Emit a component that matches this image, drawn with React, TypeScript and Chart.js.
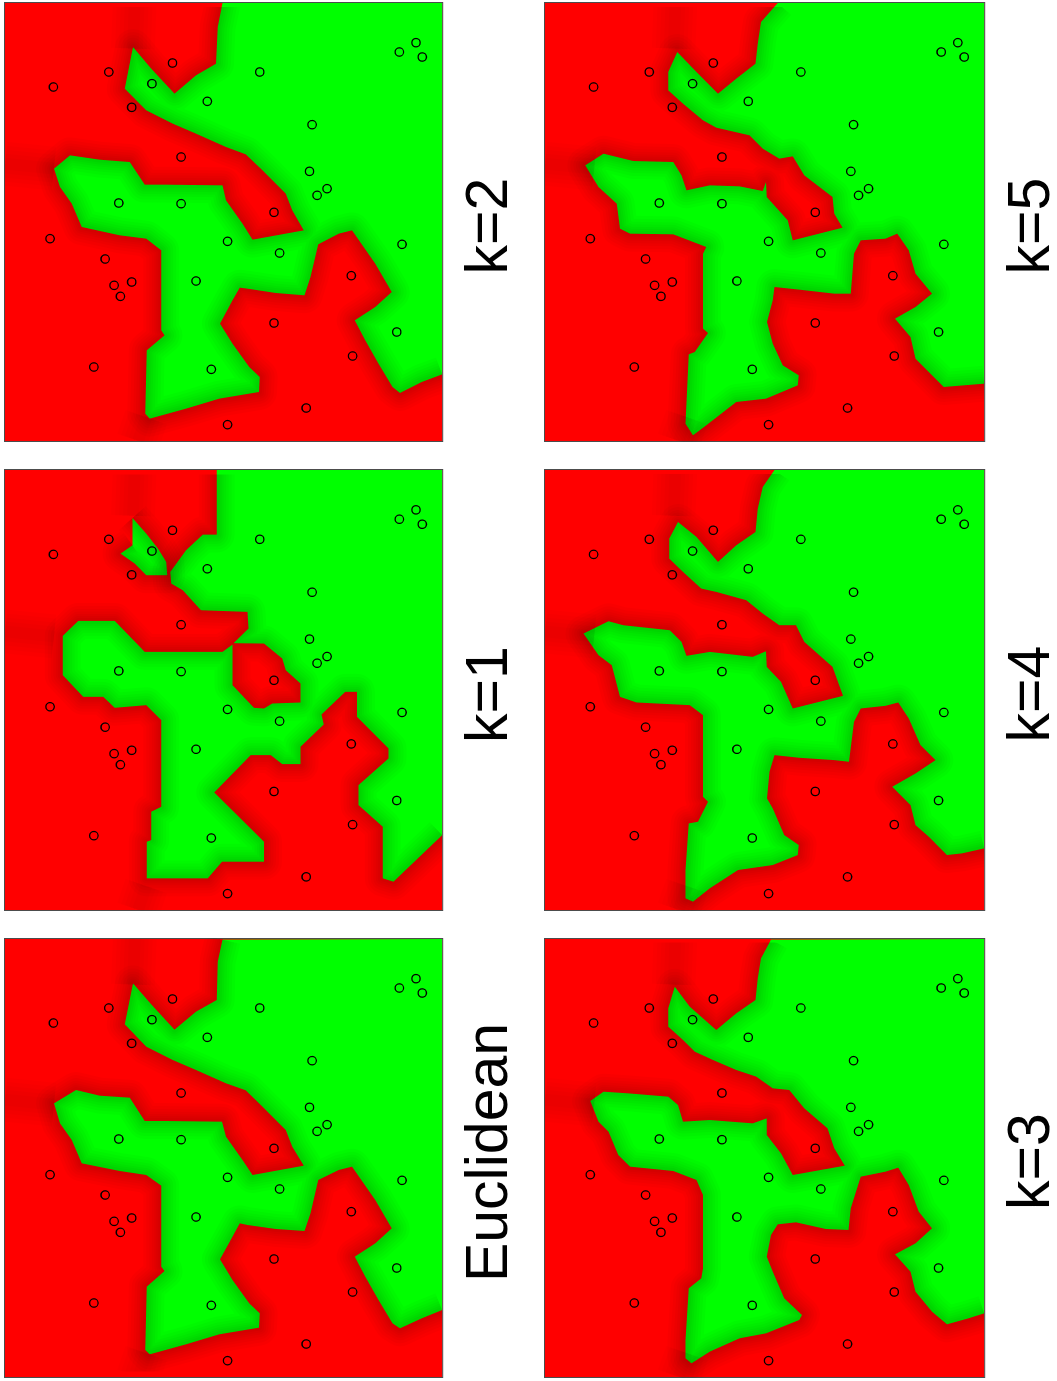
import React, { useEffect, useRef } from "react";
import { Chart, registerables } from "chart.js";
Chart.register(...registerables);

type P = number[][];

const trainingPoints: P = [[160,260],[327,215],[519,188],[457,250],[396,321],[624,303],[782,215],[1203,155],[1253,127],[1272,170],[940,373],[545,470],[357,608],[545,610],[150,715],[685,723],[825,636],[842,758],[932,513],[955,585],[985,565],[1211,732],[316,776],[343,855],[396,845],[362,888],[590,842],[1058,826],[825,968],[1195,995],[1062,1067],[282,1100],[636,1107],[922,1223],[685,1273]];

const shadeStreaks: P[] = [
  [[400,145],[405,8]],
  [[162,505],[14,490]],
  [[440,1250],[415,1322]],
];

const boundaryEuclidean: P = [[670,14],[655,80],[652,195],[590,230],[525,284],[455,208],[400,145],[375,268],[440,335],[520,375],[590,405],[680,445],[740,466],[790,515],[860,585],[880,635],[915,692],[760,720],[730,675],[680,605],[668,560],[500,558],[435,558],[390,488],[300,482],[228,465],[162,505],[180,565],[215,615],[245,685],[360,708],[440,720],[485,752],[485,995],[495,1008],[441,1055],[437,1245],[450,1258],[560,1228],[660,1198],[780,1178],[782,1135],[750,1105],[700,1035],[662,973],[700,905],[722,865],[745,870],[830,882],[917,888],[935,835],[958,735],[1020,705],[1060,695],[1130,795],[1180,880],[1130,925],[1068,965],[1100,1025],[1140,1095],[1182,1165],[1205,1180],[1270,1150],[1332,1125]];

const boundaryK1: P = [[652,14],[652,207],[610,208],[560,255],[512,320],[515,355],[550,375],[605,435],[745,440],[748,490],[703,534],[795,535],[850,580],[860,615],[905,655],[905,712],[820,715],[795,730],[765,728],[700,660],[700,538],[670,560],[435,560],[345,467],[235,467],[188,512],[188,630],[250,695],[310,695],[345,728],[440,720],[485,765],[485,1025],[455,1040],[455,1125],[441,1130],[441,1240],[625,1240],[668,1190],[795,1190],[795,1130],[645,982],[755,870],[815,870],[850,897],[905,897],[905,845],[975,778],[968,748],[1040,680],[1075,680],[1075,755],[1170,850],[1170,880],[1080,960],[1080,1020],[1153,1085],[1153,1240],[1185,1250],[1332,1110]];
const islandK1: P = [[398,158],[440,205],[475,250],[500,290],[503,330],[440,330],[405,295],[362,265],[398,240]];

const boundaryK2: P = [[670,8],[655,80],[650,190],[590,225],[525,280],[455,205],[400,140],[375,265],[440,330],[520,370],[590,400],[680,440],[740,462],[790,510],[860,580],[880,630],[915,690],[760,718],[730,670],[680,600],[670,555],[500,553],[435,553],[390,485],[300,478],[210,465],[162,505],[180,560],[215,610],[245,680],[360,705],[440,715],[485,750],[485,990],[495,1005],[441,1050],[437,1240],[450,1255],[560,1225],[660,1195],[780,1175],[782,1130],[750,1100],[700,1030],[662,970],[700,900],[722,862],[745,865],[830,878],[917,885],[935,830],[958,732],[1020,700],[1060,690],[1130,790],[1180,875],[1130,920],[1068,960],[1100,1020],[1140,1090],[1182,1160],[1205,1178],[1270,1145],[1332,1122]];

const boundaryK3: P = [[695,14],[665,70],[655,130],[648,195],[590,235],[530,285],[450,215],[405,155],[385,220],[385,275],[430,315],[465,350],[520,375],[590,405],[650,425],[700,460],[750,465],[795,520],[865,580],[885,640],[917,692],[760,720],[725,655],[682,600],[682,550],[640,565],[510,555],[430,560],[415,510],[385,485],[265,475],[190,470],[150,498],[175,560],[205,590],[235,660],[270,695],[400,708],[470,735],[490,780],[490,1000],[485,1030],[447,1060],[437,1215],[437,1270],[455,1285],[510,1250],[600,1210],[680,1195],[780,1155],[788,1140],[735,1090],[700,1010],[682,965],[695,900],[715,868],[770,862],[860,882],[928,885],[935,820],[965,725],[1040,710],[1078,698],[1110,750],[1140,830],[1180,880],[1130,925],[1068,958],[1115,1010],[1130,1070],[1180,1130],[1225,1168],[1290,1150],[1337,1135]];

const boundaryK4: P = [[705,14],[670,65],[655,130],[648,200],[590,240],[535,290],[470,215],[415,170],[388,220],[388,280],[430,320],[485,370],[530,380],[620,405],[670,445],[720,480],[770,480],[795,530],[880,605],[912,692],[760,730],[725,650],[682,605],[680,558],[640,575],[510,560],[440,572],[425,530],[390,495],[250,480],[205,468],[130,505],[175,570],[215,600],[240,695],[290,712],[450,720],[490,750],[490,995],[505,1010],[475,1070],[447,1075],[437,1215],[437,1300],[460,1310],[510,1270],[595,1215],[700,1200],[775,1170],[778,1140],[735,1110],[700,1030],[683,1000],[690,920],[705,870],[780,878],[885,885],[930,890],[945,770],[965,730],[1040,722],[1078,712],[1110,760],[1145,840],[1190,885],[1130,925],[1060,965],[1115,1020],[1130,1080],[1170,1115],[1225,1170],[1270,1165],[1337,1150]];

const boundaryK5: P = [[715,8],[665,65],[655,130],[648,190],[590,235],[535,280],[470,215],[412,155],[385,215],[385,270],[430,310],[490,360],[530,382],[630,405],[670,445],[720,475],[760,468],[795,525],[880,590],[885,640],[910,682],[760,720],[745,660],[682,590],[680,545],[670,572],[600,558],[510,555],[440,570],[425,525],[400,485],[280,482],[190,460],[135,495],[175,560],[230,610],[240,685],[270,700],[400,702],[500,740],[490,760],[490,985],[505,998],[465,1055],[447,1062],[437,1270],[460,1305],[500,1275],[590,1205],[680,1195],[775,1155],[778,1125],[730,1095],[700,1030],[683,965],[700,900],[705,860],[780,868],[885,880],[935,880],[945,760],[965,720],[1040,715],[1075,700],[1110,750],[1130,820],[1180,880],[1130,920],[1068,955],[1115,1010],[1130,1075],[1215,1160],[1337,1150]];

// frame limits in the units the outlines were read in
const panels = [
  { label: "k=2", labelShift: -4, boundary: boundaryK2, islands: [] as P[], xr: [14,1332], yr: [8,1322], left: 4, top: 2, pw: 439, ph: 438 },
  { label: "k=1", labelShift: -4.5, boundary: boundaryK1, islands: [islandK1], xr: [14,1332], yr: [14,1335], left: 4, top: 469, pw: 439, ph: 440 },
  { label: "Euclidean", labelShift: 5.5, boundary: boundaryEuclidean, islands: [] as P[], xr: [14,1332], yr: [12,1326], left: 4, top: 938, pw: 439, ph: 438 },
  { label: "k=5", labelShift: -4, boundary: boundaryK5, islands: [] as P[], xr: [14,1337], yr: [8,1322], left: 544, top: 2, pw: 441, ph: 438 },
  { label: "k=4", labelShift: -4, boundary: boundaryK4, islands: [] as P[], xr: [14,1337], yr: [14,1335], left: 544, top: 469, pw: 441, ph: 440 },
  { label: "k=3", labelShift: -3.5, boundary: boundaryK3, islands: [] as P[], xr: [14,1337], yr: [12,1326], left: 544, top: 938, pw: 441, ph: 438 },
];

const labelSpace = 81;
const refX = [14, 1332];
const refY = [8, 1322];
const glowWidths = [36, 30, 24, 19, 14, 10, 6];
const streakWidths = [44, 36, 28, 20, 12];

const panelPlugin = {
  id: "panelFrame",
  beforeDatasetsDraw(chart: any) {
    const { ctx, chartArea: a } = chart;
    ctx.save();
    ctx.fillStyle = "#ff0000";
    ctx.fillRect(a.left, a.top, a.right - a.left, a.bottom - a.top);
    ctx.restore();
  },
  afterDatasetsDraw(chart: any) {
    const { ctx, chartArea: a } = chart;
    ctx.save();
    ctx.strokeStyle = "rgba(0,0,0,0.7)";
    ctx.lineWidth = 1;
    ctx.strokeRect(a.left - 0.5, a.top - 0.5, a.right - a.left + 1, a.bottom - a.top + 1);
    ctx.restore();
  },
};

function Panel({ p }: { p: (typeof panels)[number] }) {
  const ref = useRef<HTMLCanvasElement>(null);
  const w = p.ph + 2;
  const h = p.pw + 2 + labelSpace;
  useEffect(() => {
    const xy = (a: P) => a.map(([x, y]) => ({ x: y, y: x }));
    const mapRef = (a: P) =>
      a.map(([x, y]) => [
        p.xr[0] + ((x - refX[0]) * (p.xr[1] - p.xr[0])) / (refX[1] - refX[0]),
        p.yr[0] + ((y - refY[0]) * (p.yr[1] - p.yr[0])) / (refY[1] - refY[0]),
      ]);
    const region = (a: P) => ({
      type: "scatter", data: xy(a), showLine: true, fill: "shape", backgroundColor: "#00ff00",
      borderWidth: 0, pointRadius: 0, clip: 0, tension: 0, order: 10,
    });
    const glow = (a: P, width: number, alpha: number, order: number) => ({
      type: "scatter", data: xy(a), showLine: true, fill: false,
      borderColor: `rgba(0,0,0,${alpha})`, borderWidth: width, pointRadius: 0, clip: 0, tension: 0,
      borderJoinStyle: "round", order,
    });
    const outlines = [p.boundary, ...p.islands];
    const closed: P = [...p.boundary, [p.xr[1], p.yr[0]]];
    const datasets: any[] = [
      region(closed),
      ...p.islands.map(region),
      ...outlines.flatMap((o) => glowWidths.map((g) => glow(o, g, 0.024, 9))),
      ...shadeStreaks.flatMap((s) => streakWidths.map((g) => glow(mapRef(s), g, 0.016, 6))),
      {
        type: "scatter", data: xy(mapRef(trainingPoints)), pointRadius: 4.2, pointBorderWidth: 1.3,
        pointBorderColor: "#000", pointBackgroundColor: "rgba(0,0,0,0)", order: 1,
      },
    ];
    // nudge the axis title along the panel without moving the data
    const labelNudge = {
      id: "labelNudge",
      beforeDraw(chart: any) {
        chart.scales.x.left += p.labelShift;
        chart.scales.x.right += p.labelShift;
      },
      afterDraw(chart: any) {
        chart.scales.x.left -= p.labelShift;
        chart.scales.x.right -= p.labelShift;
      },
    };
    const chart = new Chart(ref.current!, {
      type: "scatter",
      data: { datasets },
      plugins: [panelPlugin, labelNudge],
      options: {
        animation: false,
        responsive: false,
        events: [],
        layout: { autoPadding: false, padding: { left: 1, right: 1, top: 1, bottom: 0 } },
        plugins: { legend: { display: false }, tooltip: { enabled: false }, title: { display: false } },
        scales: {
          x: {
            type: "linear", reverse: true, min: p.yr[0], max: p.yr[1],
            grid: { display: false }, border: { display: false }, ticks: { display: false },
            title: {
              display: true, text: p.label, color: "#000",
              font: { family: "'Liberation Sans'", size: 59, weight: "normal", lineHeight: 1.2 },
              padding: { top: 5, bottom: 0 },
            },
          },
          y: { type: "linear", reverse: true, min: p.xr[0], max: p.xr[1], display: false },
        },
      },
    } as any);
    return () => chart.destroy();
  }, []);
  return (
    <canvas
      ref={ref}
      width={w}
      height={h}
      style={{
        position: "absolute",
        left: p.left,
        top: p.top + w,
        transformOrigin: "0 0",
        transform: "rotate(-90deg)",
        filter: "blur(0.45px)",
      }}
    />
  );
}

export default function App() {
  return (
    <div style={{ position: "fixed", left: 0, top: 0, width: 1057, height: 1381, overflow: "hidden", background: "#fff" }}>
      {panels.map((p) => (
        <Panel key={p.label} p={p} />
      ))}
    </div>
  );
}
